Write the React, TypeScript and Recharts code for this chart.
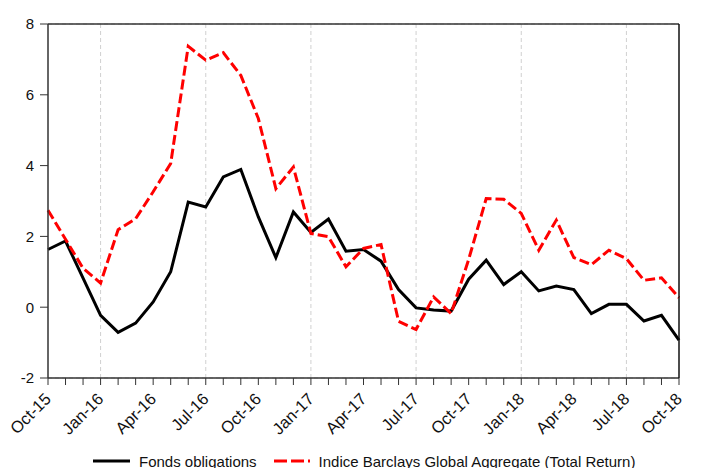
import React from 'react';
import { LineChart, Line, XAxis, YAxis, CartesianGrid, ReferenceLine, Legend } from 'recharts';

const months = [
  'Oct-15', 'Nov-15', 'Dec-15', 'Jan-16', 'Feb-16', 'Mar-16', 'Apr-16', 'May-16', 'Jun-16', 'Jul-16',
  'Aug-16', 'Sep-16', 'Oct-16', 'Nov-16', 'Dec-16', 'Jan-17', 'Feb-17', 'Mar-17', 'Apr-17', 'May-17',
  'Jun-17', 'Jul-17', 'Aug-17', 'Sep-17', 'Oct-17', 'Nov-17', 'Dec-17', 'Jan-18', 'Feb-18', 'Mar-18',
  'Apr-18', 'May-18', 'Jun-18', 'Jul-18', 'Aug-18', 'Sep-18', 'Oct-18',
];

const fonds = [
  1.63, 1.87, 0.82, -0.23, -0.71, -0.45, 0.15, 1.0, 2.97, 2.83,
  3.68, 3.89, 2.55, 1.4, 2.69, 2.11, 2.49, 1.58, 1.63, 1.3,
  0.5, -0.02, -0.08, -0.11, 0.79, 1.33, 0.64, 1.0, 0.46, 0.6,
  0.5, -0.18, 0.08, 0.08, -0.39, -0.23, -0.93,
];

const indice = [
  2.74, 1.92, 1.1, 0.68, 2.19, 2.5, 3.26, 4.06, 7.37, 6.98,
  7.19, 6.55, 5.33, 3.35, 3.96, 2.08, 1.99, 1.14, 1.66, 1.77,
  -0.4, -0.63, 0.29, -0.18, 1.35, 3.07, 3.05, 2.65, 1.61, 2.46,
  1.4, 1.2, 1.61, 1.37, 0.76, 0.83, 0.27,
];

const yTicks = [-2, 0, 2, 4, 6, 8];
const gridMonths = ['Jan-16', 'Jul-16', 'Jan-17', 'Jul-17', 'Jan-18', 'Jul-18'];

const data = months.map((m, i) => ({ month: m, fonds: fonds[i], indice: indice[i] }));

const FONT = '"Liberation Sans", Arial, sans-serif';

const XTick = (props: any) => {
  const { x, y, payload, index } = props;
  if (index % 3 !== 0) return null;
  const ax = x + 4;
  const ay = y + 13;
  return (
    <text
      x={ax}
      y={ay}
      textAnchor="end"
      fontSize={16.5}
      fontFamily={FONT}
      fill="#111"
      transform={`rotate(-45, ${ax}, ${ay})`}
    >
      {payload.value}
    </text>
  );
};

const LegendContent = () => (
  <div
    style={{
      position: 'absolute',
      left: 85,
      top: 11,
      display: 'flex',
      alignItems: 'center',
      whiteSpace: 'nowrap',
      fontFamily: FONT,
      fontSize: 15,
      color: '#111',
      height: 20,
    }}
  >
    <svg width={37} height={10} style={{ marginRight: 9 }}>
      <line x1={0} y1={5} x2={37} y2={5} stroke="#000" strokeWidth={3} />
    </svg>
    <span style={{ marginRight: 17 }}>Fonds obligations</span>
    <svg width={36} height={10} style={{ marginRight: 9 }}>
      <line x1={0} y1={5} x2={36} y2={5} stroke="#ff0000" strokeWidth={3} strokeDasharray="13 4" />
    </svg>
    <span>Indice Barclays Global Aggregate (Total Return)</span>
  </div>
);

export default function App() {
  return (
    <div style={{ position: 'absolute', left: 0, top: 0, width: 709, height: 468, background: '#fff' }}>
      <LineChart
        width={709}
        height={468}
        data={data}
        margin={{ top: 24, right: 8, left: 8, bottom: 0 }}
      >
        <CartesianGrid vertical={false} stroke="#d0d0d0" strokeDasharray="4 3" />
        {gridMonths.map((m) => (
          <ReferenceLine key={m} x={m} yAxisId="left" stroke="#d0d0d0" strokeDasharray="4 3" />
        ))}
        <ReferenceLine y={8} yAxisId="left" stroke="#333" strokeWidth={1.5} />
        <XAxis
          dataKey="month"
          interval={0}
          tick={<XTick />}
          tickSize={7}
          tickLine={{ stroke: '#333' }}
          axisLine={{ stroke: '#333', strokeWidth: 1.5 }}
          height={62}
        />
        <YAxis
          yAxisId="left"
          domain={[-2, 8]}
          ticks={yTicks}
          width={40}
          tickSize={8}
          tickMargin={6}
          tick={{ fontSize: 15, fontFamily: FONT, fill: '#111' }}
          tickLine={{ stroke: '#333' }}
          axisLine={{ stroke: '#333', strokeWidth: 1.5 }}
          allowDataOverflow
        />
        <YAxis
          yAxisId="right"
          orientation="right"
          domain={[-2, 8]}
          ticks={yTicks}
          width={22}
          tickSize={8}
          tickMargin={2}
          tick={{ fontSize: 15, fontFamily: FONT, fill: '#111' }}
          tickLine={{ stroke: '#333' }}
          axisLine={{ stroke: '#111', strokeWidth: 1.5 }}
        />
        <Legend verticalAlign="bottom" height={28} content={<LegendContent />} />
        <Line
          yAxisId="left"
          type="linear"
          dataKey="fonds"
          stroke="#000"
          strokeWidth={3}
          dot={false}
          isAnimationActive={false}
        />
        <Line
          yAxisId="left"
          type="linear"
          dataKey="indice"
          stroke="#ff0000"
          strokeWidth={3}
          strokeDasharray="10 4"
          dot={false}
          isAnimationActive={false}
        />
      </LineChart>
    </div>
  );
}
